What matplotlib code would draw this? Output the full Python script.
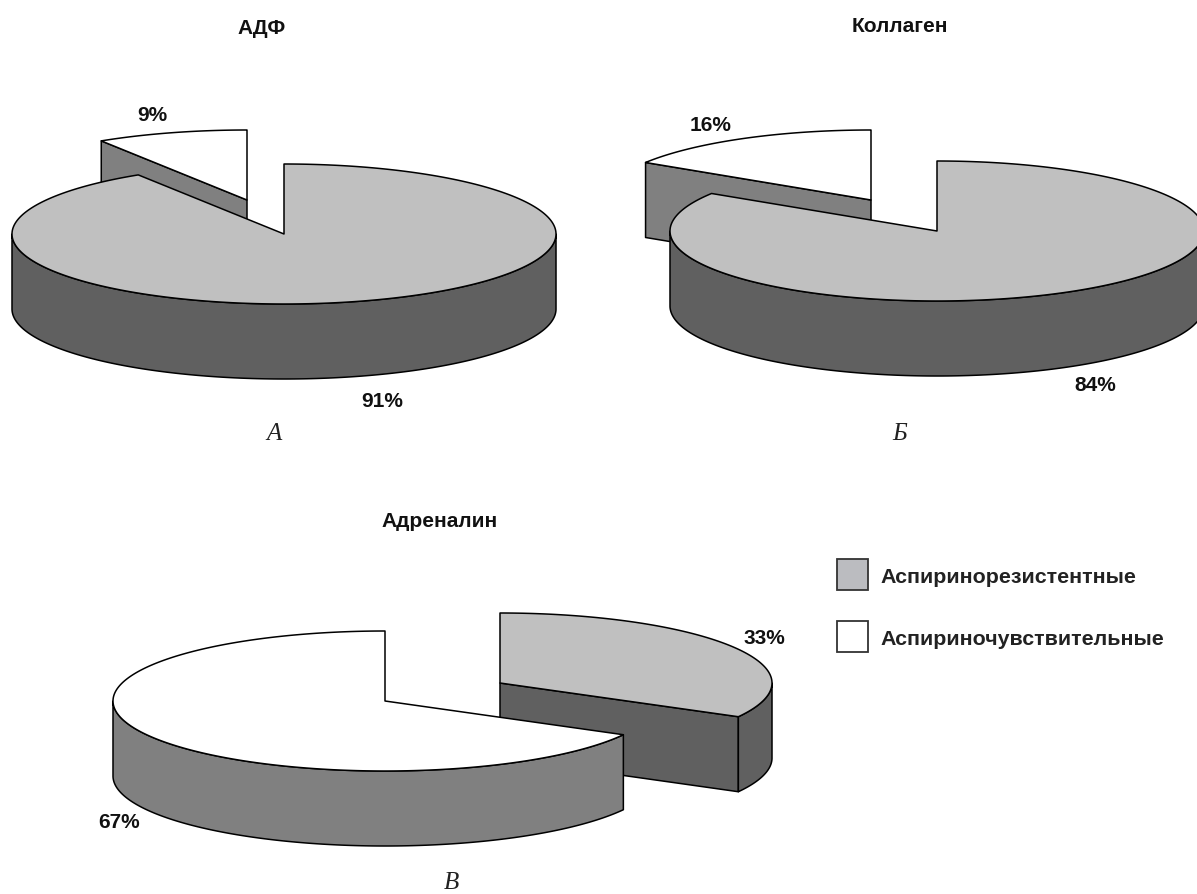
import numpy as np
import matplotlib
matplotlib.use("Agg")
import matplotlib.pyplot as plt
from matplotlib.patches import Polygon, Rectangle

#chart values
titles = ["АДФ", "Коллаген", "Адреналин"]
panel_letters = ["А", "Б", "В"]
legend_labels = ["Аспиринорезистентные", "Аспириночувствительные"]
adf_resistant = 91
adf_sensitive = 9
collagen_resistant = 84
collagen_sensitive = 16
adrenaline_resistant = 33
adrenaline_sensitive = 67

#colours
res_top, res_side = "#c0c0c0", "#606060"
sen_top, sen_side = "#ffffff", "#808080"
DEPTH = 75
RY = 70
EDGE = 1.1

plt.rcParams["font.family"] = ["Liberation Sans", "DejaVu Sans"]

fig = plt.figure(figsize=(11.97, 8.94), dpi=100)
ax = fig.add_axes([0, 0, 1, 1])
ax.set_xlim(0, 1197)
ax.set_ylim(894, 0)
ax.axis("off")


def rim(cx, cy, rx, theta):
    #theta in degrees, clockwise from 12 o'clock
    t = np.radians(theta)
    return cx + rx * np.sin(t), cy - RY * np.cos(t)


def draw_slice(cx, cy, rx, start, end, top, side):
    #start, end are percent positions around the pie
    a1 = start * 3.6
    a2 = end * 3.6
    # cut faces
    for a, sign in ((a1, -1), (a2, 1)):
        if sign * np.sin(np.radians(a)) > 1e-6:
            px, py = rim(cx, cy, rx, a)
            ax.add_patch(Polygon([(cx, cy), (px, py), (px, py + DEPTH), (cx, cy + DEPTH)],
                                 fc=side, ec="black", lw=EDGE, joinstyle="round"))
    # outer wall, only the front half of the ellipse shows
    lo = max(a1, 90)
    hi = min(a2, 270)
    if hi > lo:
        th = np.linspace(lo, hi, 200)
        xs, ys = rim(cx, cy, rx, th)
        pts = list(zip(xs, ys)) + list(zip(xs[::-1], ys[::-1] + DEPTH))
        ax.add_patch(Polygon(pts, fc=side, ec="black", lw=EDGE, joinstyle="round"))
    # top
    th = np.linspace(a1, a2, 400)
    xs, ys = rim(cx, cy, rx, th)
    pts = [(cx, cy)] + list(zip(xs, ys))
    ax.add_patch(Polygon(pts, fc=top, ec="black", lw=EDGE, joinstyle="round"))


#panel A
draw_slice(247, 200, 272, adf_resistant, adf_resistant + adf_sensitive, sen_top, sen_side)
draw_slice(284, 234, 272, 0, adf_resistant, res_top, res_side)
#panel B
draw_slice(871, 200, 267, collagen_resistant, collagen_resistant + collagen_sensitive, sen_top, sen_side)
draw_slice(937, 231, 267, 0, collagen_resistant, res_top, res_side)
#panel C
draw_slice(500, 683, 272, 0, adrenaline_resistant, res_top, res_side)
draw_slice(385, 701, 272, adrenaline_resistant, adrenaline_resistant + adrenaline_sensitive, sen_top, sen_side)

bold = dict(fontsize=15, fontweight="bold", ha="center", va="baseline", color="#111111")
ax.text(262, 34, titles[0], **bold)
ax.text(900, 32, titles[1], **bold)
ax.text(440, 527, titles[2], **bold)

ax.text(152, 121, "%d%%" % adf_sensitive, **bold)
ax.text(382, 407, "%d%%" % adf_resistant, **bold)
ax.text(711, 131, "%d%%" % collagen_sensitive, **bold)
ax.text(1095, 391, "%d%%" % collagen_resistant, **bold)
ax.text(764, 644, "%d%%" % adrenaline_resistant, **bold)
ax.text(119, 828, "%d%%" % adrenaline_sensitive, **bold)

serif = dict(fontsize=18, fontstyle="italic", family="Liberation Serif", ha="center", va="baseline", color="#222222")
ax.text(274, 440, panel_letters[0], **serif)
ax.text(900, 440, panel_letters[1], **serif)
ax.text(451, 889, panel_letters[2], **serif)

#legend
ax.add_patch(Rectangle((837, 559), 31, 31, fc="#bbbcc0", ec="#333333", lw=1.3))
ax.add_patch(Rectangle((837, 621), 31, 31, fc=sen_top, ec="#333333", lw=1.3))
ax.text(880, 583, legend_labels[0], fontsize=15.4, fontweight="bold", va="baseline", color="#222222")
ax.text(880, 645, legend_labels[1], fontsize=15.4, fontweight="bold", va="baseline", color="#222222")

fig.savefig("out.png", dpi=100)
